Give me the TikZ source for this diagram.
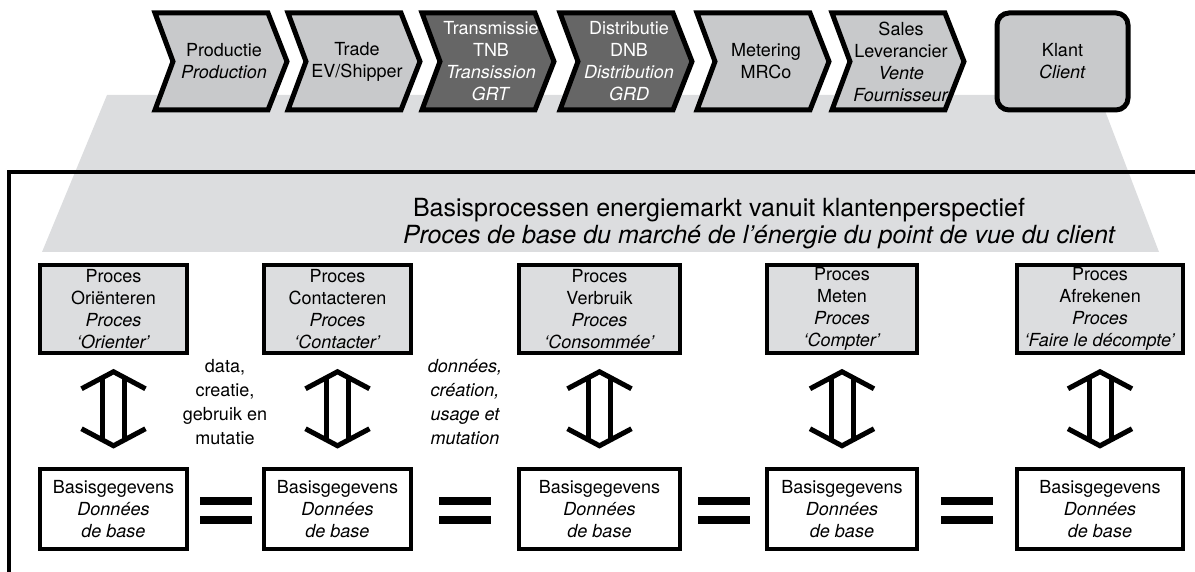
\documentclass[tikz,border=0pt]{standalone}
\usepackage{fontspec}
\setmainfont{TeX Gyre Heros}
\usetikzlibrary{calc}
\definecolor{chevlight}{HTML}{C8C9CB}
\definecolor{chevdark}{HTML}{666666}
\definecolor{bandgray}{HTML}{DCDDDF}

\begin{document}
\begin{tikzpicture}[x=1pt, y=-1pt,
    txt/.style={align=center, inner sep=0pt, font=\fontsize{18}{22}\selectfont},
    procbox/.style={txt, draw, line width=4, fill=bandgray, minimum height=87},
    basebox/.style={txt, draw, line width=4, fill=white, minimum height=80},
    dblarrow/.pic={
      \draw[line width=5, line join=miter] (-32,-20) -- (0,-37) -- (32,-20);
      \draw[line width=5] (-11,-31) -- (-11,31);
      \draw[line width=5] (11,-31) -- (11,31);
      \draw[line width=5, line join=miter] (-32,20) -- (0,37) -- (32,20);
    }]
  \useasboundingbox (0,0) rectangle (1195,572);

  % band under the chain
  \fill[bandgray] (107,95) -- (1099,95) -- (1159,252) -- (42,252) -- cycle;

  % chain of the market
  \foreach \x/\c/\t/\n/\s in {
      155/chevlight/black/prod/{Productie\\\textit{Production}},
      288/chevlight/black/trade/{Trade\\EV/Shipper},
      422/chevdark/white/trans/{Transmissie\\TNB\\\textit{Transission}\\\textit{GRT}},
      560/chevdark/white/distr/{Distributie\\DNB\\\textit{Distribution}\\\textit{GRD}},
      697/chevlight/black/meter/{Metering\\MRCo},
      832/chevlight/black/sales/{Sales\\Leverancier\\\textit{Vente}\\\textit{Fournisseur}}} {
    \draw[line width=5, line join=miter, fill=\c] (\x,13) -- (\x+113,13) -- (\x+132,61.5)
      -- (\x+113,110) -- (\x,110) -- (\x+18,61.5) -- cycle;
    \node[txt, text=\t] (\n) at (\x+69,61.5) {\s};
  }
  \node[txt, draw, line width=5, rounded corners=12, fill=chevlight,
    minimum width=131, minimum height=97] (klant) at (1062.5,61.5) {Klant\\\textit{Client}};

  % frame
  \draw[line width=4.5, line join=miter] (9,572) -- (9,172) -- (1195,172);

  \node[inner sep=0pt, font=\fontsize{25}{27}\selectfont] (titlenl) at (719,210)
    {Basisprocessen energiemarkt vanuit klantenperspectief};
  \node[inner sep=0pt, font=\fontsize{25}{27}\selectfont\itshape] (titlefr) at (759,237)
    {Proces de base du marché de l’énergie du point de vue du client};

  % processes and base data
  \foreach \i/\cx/\w/\s in {
      1/113.5/147/{Proces\\Oriënteren\\\textit{Proces}\\\textit{‘Orienter’}},
      2/337.5/147/{Proces\\Contacteren\\\textit{Proces}\\\textit{‘Contacter’}},
      3/599.5/161/{Proces\\Verbruik\\\textit{Proces}\\\textit{‘Consommée’}},
      4/842/150/{Proces\\Meten\\\textit{Proces}\\\textit{‘Compter’}},
      5/1100/166/{Proces\\Afrekenen\\\textit{Proces}\\\textit{‘Faire le décompte’}}} {
    \node[procbox, minimum width=\w] (p\i) at (\cx,309) {\s};
    \node[basebox, minimum width=\w] (b\i) at (\cx,509)
      {Basisgegevens\\\textit{Données}\\\textit{de base}};
    \pic at ($(p\i.south)!0.5!(b\i.north)+(0,-2)$) {dblarrow};
  }

  \foreach \i/\j in {1/2,2/3,3/4,4/5} {
    \coordinate (eq\i) at ($(b\i.east)!0.5!(b\j.west)$);
    \fill (eq\i) ++(-26,-12) rectangle ++(52,7.5);
    \fill (eq\i) ++(-26,7) rectangle ++(52,7.5);
  }

  \node[txt, font=\fontsize{18}{24}\selectfont] (nl) at (225,402)
    {data,\\creatie,\\gebruik en\\mutatie};
  \node[txt, font=\fontsize{18}{24}\selectfont\itshape] (fr) at (465,402)
    {données,\\création,\\usage et\\mutation};
\end{tikzpicture}
\end{document}
